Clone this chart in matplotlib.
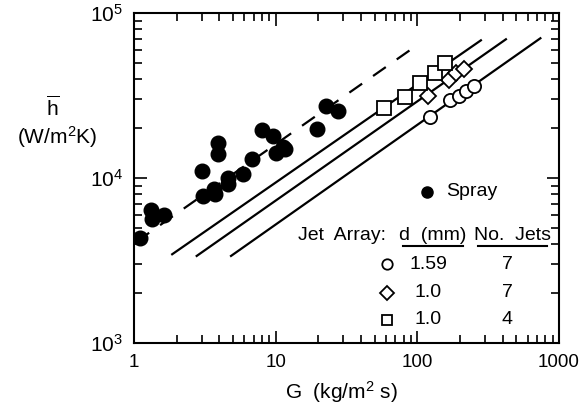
import numpy as np
import matplotlib
matplotlib.use("Agg")
from matplotlib import pyplot as plt
from matplotlib.lines import Line2D
from matplotlib.ticker import LogLocator, NullFormatter

plt.rcParams['font.family'] = ['Liberation Sans', 'DejaVu Sans']
plt.rcParams['mathtext.fontset'] = 'custom'
plt.rcParams['mathtext.rm'] = 'Liberation Sans'
plt.rcParams['mathtext.default'] = 'regular'

# spray data (G, h)
spray_G = [1.10, 1.31, 1.33, 1.64, 3.03, 3.08, 3.69, 3.73, 3.94, 3.90, 4.63,
           4.58, 5.91, 6.84, 8.07, 9.52, 10.05, 11.3, 11.6, 19.5, 22.5, 27.7]
spray_h = [4350, 6370, 5640, 5990, 11100, 7810, 8580, 8040, 16300, 14000, 10000,
           9240, 10600, 13000, 19600, 18000, 14200, 15500, 15000, 19900, 27200, 25300]

# jet arrays
circ_G = [122, 171, 196, 220, 252]
circ_h = [23500, 29700, 31500, 33600, 36100]
diam_G = [118, 168, 186, 214]
diam_h = [31300, 39300, 43100, 45600]
sq_G = [58.1, 81.7, 104, 134, 157]
sq_h = [26600, 31100, 37600, 43500, 50000]

# correlation lines (end points)
dash_G = [1.04, 92.6]
dash_h = [4110, 61100]
line_sq_G = [1.86, 281]
line_sq_h = [3450, 68300]
line_di_G = [2.77, 422]
line_di_h = [3370, 69300]
line_ci_G = [4.84, 739]
line_ci_h = [3370, 70300]

fig = plt.figure(figsize=(5.81, 4.09), dpi=100)
ax = fig.add_axes([134/581, 66/409, 425/581, 330/409])
ax.set_xscale('log')
ax.set_yscale('log')
ax.set_xlim(1, 1000)
ax.set_ylim(1e3, 1e5)
ax.set_axisbelow(False)

# axes styling first
for s in ax.spines.values():
    s.set_linewidth(1.5)
ax.set_xticks([1, 10, 100, 1000])
ax.set_xticklabels(['1', '10', '100', '1000'], fontsize=13.5)
ax.set_yticks([1e3, 1e4, 1e5])
ax.set_yticklabels([r'$10^{3}$', r'$10^{4}$', r'$10^{5}$'], fontsize=15)
ax.xaxis.set_minor_locator(LogLocator(base=10, subs=np.arange(2, 10), numticks=20))
ax.yaxis.set_minor_locator(LogLocator(base=10, subs=np.arange(2, 10), numticks=20))
ax.xaxis.set_minor_formatter(NullFormatter())
ax.yaxis.set_minor_formatter(NullFormatter())
ax.tick_params(which='both', direction='in', top=True, bottom=True,
               left=True, right=True, width=1.2)
ax.tick_params(which='major', length=9, pad=8)
ax.tick_params(which='minor', length=5.5)

# correlation lines
ax.plot(dash_G, dash_h, color='black', lw=1.6, dashes=(7, 6))
for gx, hy in [(line_sq_G, line_sq_h), (line_di_G, line_di_h), (line_ci_G, line_ci_h)]:
    ax.plot(gx, hy, color='black', lw=1.6)

# data points
ax.plot(spray_G, spray_h, 'o', color='black', ms=10.5, ls='none')
ax.plot(circ_G, circ_h, 'o', mfc='white', mec='black', mew=1.3, ms=9.5, ls='none')
ax.plot(diam_G, diam_h, 'D', mfc='white', mec='black', mew=1.3, ms=8, ls='none')
ax.plot(sq_G, sq_h, 's', mfc='white', mec='black', mew=1.3, ms=9.5, ls='none')

fig.text(341/581, 1 - 392/409, r'G  (kg/m$^{2}$ s)', ha='center', va='center', fontsize=15)
fig.text(53/581, 1 - 108/409, r'$\overline{h}$', ha='center', va='center', fontsize=15)
fig.text(57/581, 1 - 137/409, r'(W/m$^{2}$K)', ha='center', va='center', fontsize=15)


# legend block, placed in figure pixel terms
def fpt(px, py):
    return px / 581, 1 - py / 409


def fig_text(px, py, s, ha='center'):
    fx, fy = fpt(px, py)
    fig.text(fx, fy, s, fontsize=14, va='center', ha=ha)


def fig_marker(px, py, mk, **kw):
    fx, fy = fpt(px, py)
    fig.add_artist(Line2D([fx], [fy], marker=mk, ls='none', transform=fig.transFigure, **kw))


fig_marker(426.7, 191.7, 'o', color='black', ms=8)
fig_text(446, 191.7, 'Spray', ha='left')
fig_text(298, 235, 'Jet  Array:', ha='left')
fig_text(433, 235, 'd  (mm)')
fig_text(512, 235, 'No.  Jets')
for x0, x1 in [(402.7, 463.3), (477.7, 546.7)]:
    a = fpt(x0, 246)
    b = fpt(x1, 246)
    fig.add_artist(Line2D([a[0], b[0]], [a[1], b[1]], color='black', lw=1.5,
                          transform=fig.transFigure))

legend_rows = [('o', '1.59', '7', 264.3, 7.5),
               ('D', '1.0', '7', 292.7, 7),
               ('s', '1.0', '4', 320, 7.5)]
for mk, dval, nval, py, msz in legend_rows:
    fig_marker(387.3, py, mk, mfc='white', mec='black', mew=1.3, ms=msz)
    fig_text(428, py, dval)
    fig_text(507, py, nval)

fig.savefig('out.png', dpi=100)
